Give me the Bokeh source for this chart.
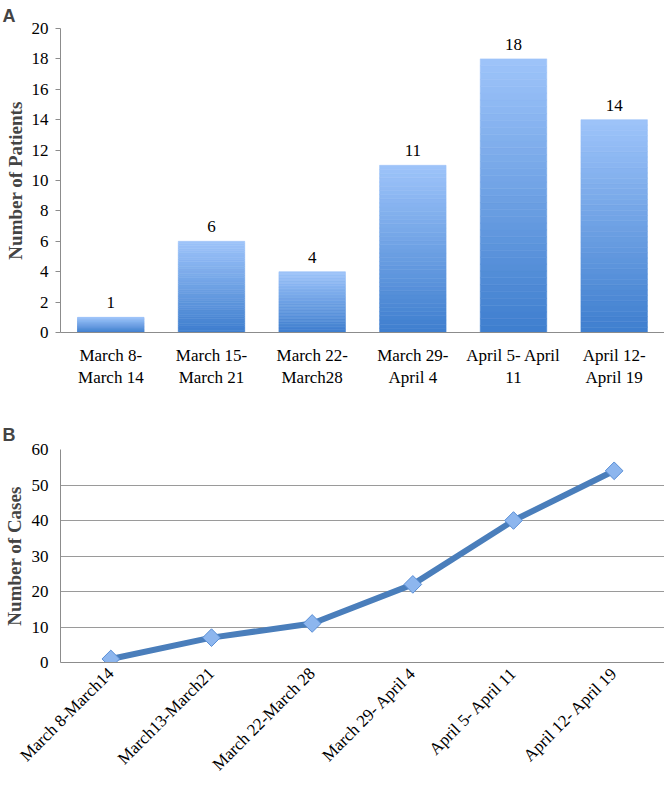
import numpy as np
from bokeh.plotting import figure
from bokeh.layouts import column
from bokeh.models import Title, FixedTicker, ColumnDataSource
from bokeh.core.properties import value
from bokeh.embed import file_html
from bokeh.resources import INLINE

# ---- data ----
weeks_a = ["March 8-\nMarch 14", "March 15-\nMarch 21", "March 22-\nMarch28",
           "March 29-\nApril 4", "April 5- April\n11", "April 12-\nApril 19"]
patients = [1, 6, 4, 11, 18, 14]

weeks_b = ["March 8-March14", "March13-March21", "March 22-March 28",
           "March 29- April 4", "April 5- April 11", "April 12- April 19"]
cases = [1, 7, 11, 22, 40, 54]

yticks_a = list(range(0, 21, 2))
yticks_b = list(range(0, 61, 10))

SERIF = "Liberation Serif"
AXIS_GREY = "#8c8c8c"

# ---- chart A ----
pa = figure(x_range=weeks_a, y_range=(0, 20), output_backend="svg", toolbar_location=None,
            frame_width=604, frame_height=304, min_border_left=60, min_border_right=0,
            min_border_top=28, min_border_bottom=68)
pa.outline_line_color = None
pa.xgrid.grid_line_color = None
pa.ygrid.grid_line_color = None

# gradient bars: each bar split into slices, light at top, darker at bottom
N = 40
top_c = np.array([0x9e, 0xc4, 0xfa])
bot_c = np.array([0x3e, 0x7e, 0xce])
xs, bots, tops, cols = [], [], [], []
for cat, v in zip(weeks_a, patients):
    for k in range(N):
        f = (k + 0.5) / N
        c = bot_c + (top_c - bot_c) * f
        xs.append(cat)
        bots.append(v * k / N)
        tops.append(v * (k + 1) / N)
        cols.append("#%02x%02x%02x" % tuple(int(round(t)) for t in c))
pa.vbar(x=xs, bottom=bots, top=tops, width=0.66, fill_color=cols, line_color=cols,
        line_width=0.6)

pa.text(x=weeks_a, y=patients, text=[str(v) for v in patients], text_align="center",
        text_baseline="bottom", y_offset=-9, text_font=value(SERIF), text_font_size="17px",
        text_color="#000000")

pa.yaxis.ticker = FixedTicker(ticks=yticks_a)
pa.yaxis.minor_tick_line_color = None
pa.yaxis.major_tick_in = 0
pa.yaxis.major_tick_out = 5
pa.yaxis.major_label_standoff = 7
pa.yaxis.axis_line_color = AXIS_GREY
pa.yaxis.major_tick_line_color = AXIS_GREY
pa.yaxis.axis_label = "Number of Patients"
pa.yaxis.axis_label_text_font = SERIF
pa.yaxis.axis_label_text_font_style = "bold"
pa.yaxis.axis_label_text_font_size = "19px"
pa.yaxis.axis_label_standoff = 3
pa.xaxis.axis_line_color = AXIS_GREY
pa.xaxis.major_tick_line_color = None
pa.xaxis.major_label_standoff = 7
for ax in (pa.xaxis, pa.yaxis):
    ax.major_label_text_font = SERIF
    ax.major_label_text_font_size = "17px"
    ax.major_label_text_color = "#000000"
pa.add_layout(Title(text="A", align="left", offset=-58, standoff=5,
                    text_font="Liberation Sans", text_font_style="bold",
                    text_font_size="18px"), "above")

# ---- chart B ----
pb = figure(x_range=weeks_b, y_range=(0, 60), output_backend="svg", toolbar_location=None,
            frame_width=604, frame_height=213, min_border_left=60, min_border_right=0,
            min_border_top=49, min_border_bottom=128)
pb.outline_line_color = None
pb.xgrid.grid_line_color = None
pb.ygrid.grid_line_color = "#9a9a9a"
pb.ygrid.grid_line_width = 1
pb.yaxis.ticker = FixedTicker(ticks=yticks_b)
pb.yaxis.minor_tick_line_color = None
pb.yaxis.major_tick_line_color = None
pb.yaxis.major_tick_out = 0
pb.yaxis.major_label_standoff = 12
pb.yaxis.axis_line_color = AXIS_GREY
pb.xaxis.axis_line_color = AXIS_GREY
pb.xaxis.major_tick_line_color = None
pb.xaxis.major_tick_out = 0
pb.xaxis.major_label_orientation = np.pi / 4
pb.xaxis.major_label_standoff = 8
pb.yaxis.axis_label = "Number of Cases"
pb.yaxis.axis_label_text_font = SERIF
pb.yaxis.axis_label_text_font_style = "bold"
pb.yaxis.axis_label_text_font_size = "19px"
pb.yaxis.axis_label_standoff = 4
for ax in (pb.xaxis, pb.yaxis):
    ax.major_label_text_font = SERIF
    ax.major_label_text_font_size = "17px"
    ax.major_label_text_color = "#000000"

src = ColumnDataSource(dict(x=weeks_b, y=cases))
pb.line(x="x", y="y", source=src, line_color="#4a7ebb", line_width=6, line_join="round")
pb.scatter(x="x", y="y", source=src, marker="square", angle=np.pi / 4, size=12.5,
           fill_color="#8db6ee", line_color="#5a8fd6", line_width=1)
pb.add_layout(Title(text="B", align="left", offset=-58, standoff=9,
                    text_font="Liberation Sans", text_font_style="bold",
                    text_font_size="18px"), "above")

layout = column(pa, pb, spacing=0)
open("out.html", "w").write(file_html(layout, INLINE))
